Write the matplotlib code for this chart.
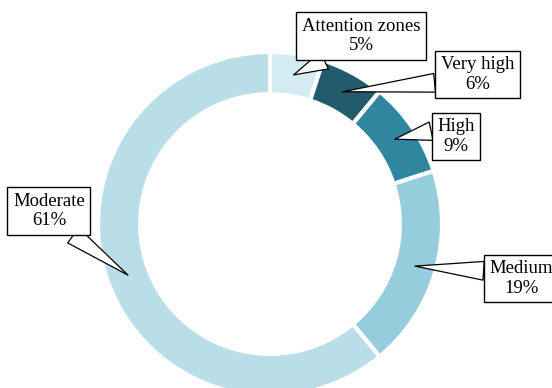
import numpy as np
import matplotlib
matplotlib.use("Agg")
import matplotlib.pyplot as plt

# Share of area by risk level
categories = ["Attention zones", "Very high", "High", "Medium", "Moderate"]
shares = [5, 6, 9, 19, 61]
colors = ["#d4ebf2", "#225b6b", "#2f869e", "#96cddd", "#b9dee8"]

# Callout box centres (data units, pie radius = 1) and arrow start on each box
label_pos = [(0.529, 1.093), (1.206, 0.869), (1.081, 0.509), (1.462, -0.317), (-1.285, 0.076)]
arrow_rel = [(0.30, 0.0), (0.0, 0.29), (0.0, 0.68), (0.0, 0.70), (0.72, 0.0)]

plt.rcParams["font.family"] = ["Liberation Serif", "DejaVu Serif"]

fig = plt.figure(figsize=(5.52, 3.88), dpi=100)
ax = fig.add_axes([0, 0, 1, 1])

ring = 0.245
wedges, _ = ax.pie(
    shares,
    colors=colors,
    startangle=90,
    counterclock=False,
    radius=1.0,
    wedgeprops=dict(width=ring, edgecolor="white", linewidth=3),
)

r_mid = 1.0 - ring / 2
for w, name, val, (tx, ty), rel in zip(wedges, categories, shares, label_pos, arrow_rel):
    ang = np.deg2rad((w.theta1 + w.theta2) / 2)
    xy = (r_mid * np.cos(ang), r_mid * np.sin(ang))
    ax.annotate(
        f"{name}\n{val}%",
        xy=xy,
        xytext=(tx, ty),
        ha="center",
        va="center",
        multialignment="center",
        fontsize=13.5,
        bbox=dict(boxstyle="square,pad=0.3", fc="white", ec="black", lw=1.0),
        arrowprops=dict(
            arrowstyle="wedge,tail_width=1.0",
            fc="white",
            ec="black",
            lw=0.9,
            shrinkA=0,
            shrinkB=0,
            relpos=rel,
        ),
        annotation_clip=False,
    )

ax.set_xlim(-270 / 172, 282 / 172)
ax.set_ylim(-164 / 172, 224 / 172)
ax.set_aspect("auto")
ax.axis("off")

fig.savefig("out.png", dpi=100)
